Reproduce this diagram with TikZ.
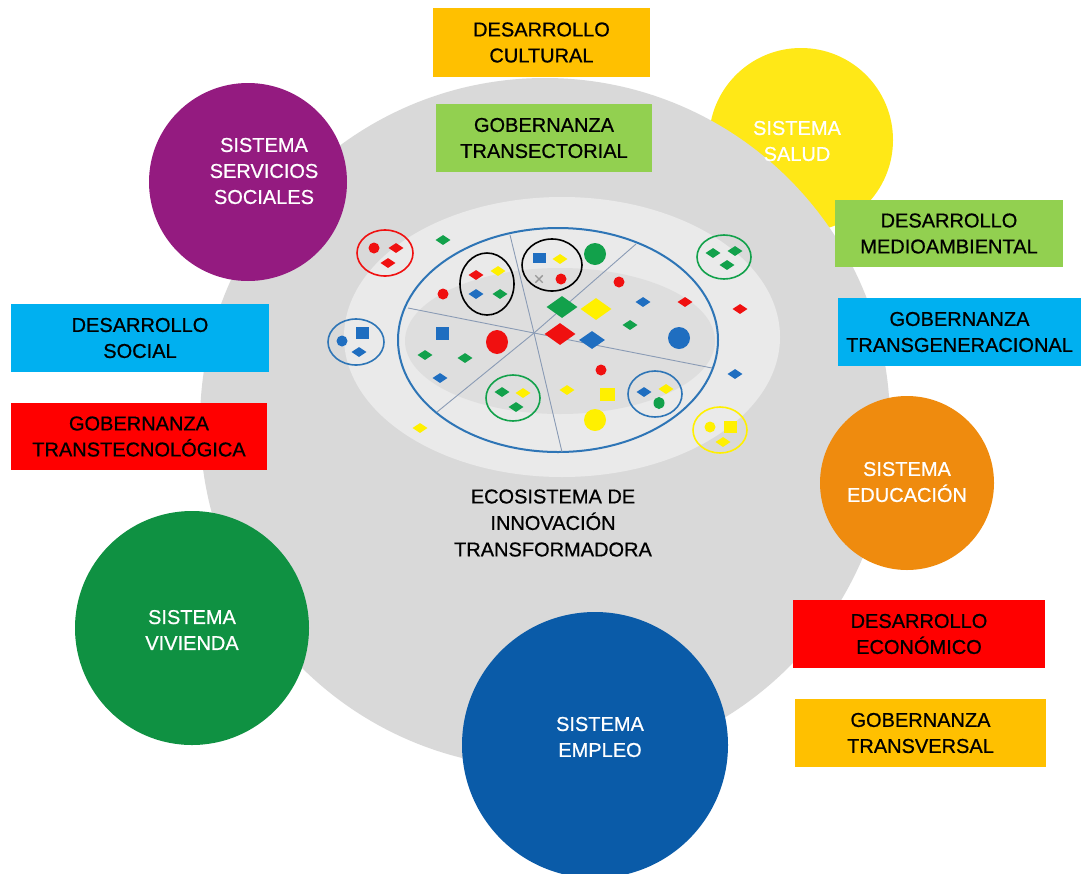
\documentclass[tikz,border=0pt]{standalone}
\usepackage{fontspec}
\setmainfont{Liberation Sans}
\newfontfamily\medfont{Liberation Sans}[FakeBold=0.7]
\usetikzlibrary{shapes.geometric,shapes.misc}
\definecolor{cBoxOr}{HTML}{FFC000}
\definecolor{cBoxGr}{HTML}{92D050}
\definecolor{cBoxBl}{HTML}{00B0F0}
\definecolor{cBoxRd}{HTML}{FF0000}
\definecolor{cPurple}{HTML}{941B80}
\definecolor{cSalud}{HTML}{FFE817}
\definecolor{cEduc}{HTML}{EF8B0E}
\definecolor{cEmpleo}{HTML}{0A5BA8}
\definecolor{cViv}{HTML}{0F9142}
\definecolor{cDisc}{HTML}{D9D9D9}
\definecolor{cLight}{HTML}{EAEAEA}
\definecolor{cDark}{HTML}{DEDEDE}
\definecolor{cRing}{HTML}{2E75B6}
\definecolor{cSpoke}{HTML}{8A9BB5}
\definecolor{sR}{HTML}{F01010}
\definecolor{sG}{HTML}{12A14B}
\definecolor{sY}{HTML}{FFF000}
\definecolor{sB}{HTML}{1F6EC0}
\newcommand\bxfont{\medfont\fontsize{20}{26}\selectfont}
\begin{document}
\begin{tikzpicture}[x=1pt,y=-1pt,
  bx/.style={rectangle, inner sep=0, align=center, font=\bxfont, text=black},
  syscirc/.style={circle, inner sep=0},
  systext/.style={align=center, font=\bxfont, text=white, inner sep=0},
  grp/.style={ellipse, draw, line width=1.6pt, inner sep=0},
  dsm/.style={diamond, inner sep=0, minimum width=15, minimum height=10},
  dmd/.style={diamond, inner sep=0, minimum width=26, minimum height=18},
  dbg/.style={diamond, inner sep=0, minimum width=31, minimum height=22},
  csm/.style={circle, inner sep=0, minimum size=11},
  cbg/.style={ellipse, inner sep=0, minimum width=22, minimum height=24},
  sq/.style={rectangle, inner sep=0, minimum width=13, minimum height=12}
]
\useasboundingbox (0,0) rectangle (1081,873);
\fill[white] (0,0) rectangle (1081,873);

% yellow circle behind the disc
\node[syscirc, fill=cSalud, minimum size=184] (saludc) at (801,140) {};

% grey disc and inner ellipses
\node[syscirc, fill=cDisc, minimum size=690] (disc) at (545,423) {};
\node[ellipse, fill=cLight, inner sep=0, minimum width=436, minimum height=280] (light) at (562,337) {};
\node[ellipse, fill=cDark, inner sep=0, minimum width=310, minimum height=146] (dark) at (560,341) {};
\node[ellipse, draw=cRing, line width=2pt, inner sep=0, minimum width=320, minimum height=224] (eco) at (558,340) {};

% spokes
\coordinate (hub) at (534,333);
\coordinate (p1) at (408,308);
\coordinate (p2) at (510,235);
\coordinate (p3) at (636,244);
\coordinate (p4) at (712,368);
\coordinate (p5) at (562,452);
\coordinate (p6) at (437,412);
\foreach \p in {p1,p2,p3,p4,p5,p6} \draw[cSpoke, line width=0.9pt] (hub) -- (\p);

% group ellipses
\node[grp, draw=sR, minimum width=56, minimum height=46] (g1) at (385,253) {};
\node[grp, draw=black, minimum width=54, minimum height=62] (g2) at (487,284) {};
\node[grp, draw=black, minimum width=60, minimum height=52] (g3) at (552,265) {};
\node[grp, draw=sG, minimum width=54, minimum height=44] (g4) at (724,257) {};
\node[grp, draw=cRing, minimum width=56, minimum height=46] (g5) at (356,342) {};
\node[grp, draw=sG, minimum width=54, minimum height=46] (g6) at (513,398) {};
\node[grp, draw=cRing, minimum width=54, minimum height=46] (g7) at (655,394) {};
\node[grp, draw=sY, minimum width=54, minimum height=46] (g8) at (720,430) {};

% red items
\node[csm, fill=sR] (r1) at (374,248) {};
\node[csm, fill=sR] (r2) at (443,294) {};
\node[csm, fill=sR] (r3) at (561,279) {};
\node[csm, fill=sR] (r4) at (619,282) {};
\node[csm, fill=sR] (r5) at (601,370) {};
\node[dsm, fill=sR] (r6) at (396,248) {};
\node[dsm, fill=sR] (r7) at (388,263) {};
\node[dsm, fill=sR] (r8) at (476,275) {};
\node[dsm, fill=sR] (r9) at (685,302) {};
\node[dsm, fill=sR] (r10) at (740,309) {};
\node[dbg, fill=sR] (r11) at (560,334) {};
\node[cbg, fill=sR] (r12) at (497,342) {};

% green items
\node[dsm, fill=sG] (e1) at (443,240) {};
\node[dsm, fill=sG] (e2) at (500,294) {};
\node[dsm, fill=sG] (e3) at (425,355) {};
\node[dsm, fill=sG] (e4) at (465,358) {};
\node[dsm, fill=sG] (e5) at (502,392) {};
\node[dsm, fill=sG] (e6) at (516,407) {};
\node[dsm, fill=sG] (e7) at (713,253) {};
\node[dsm, fill=sG] (e8) at (735,251) {};
\node[dsm, fill=sG] (e9) at (727,265) {};
\node[dsm, fill=sG] (e10) at (630,325) {};
\node[dbg, fill=sG] (e11) at (562,307) {};
\node[syscirc, fill=sG, minimum size=22] (e12) at (595,254) {};
\node[ellipse, inner sep=0, minimum width=11, minimum height=12, fill=sG] (e13) at (659,403) {};

% yellow items
\node[dsm, fill=sY] (y1) at (498,271) {};
\node[dsm, fill=sY] (y2) at (523,393) {};
\node[dsm, fill=sY] (y3) at (560,259) {};
\node[dsm, fill=sY] (y4) at (567,390) {};
\node[dsm, fill=sY] (y5) at (666,389) {};
\node[dsm, fill=sY] (y6) at (420,428) {};
\node[dsm, fill=sY] (y7) at (723,442) {};
\node[dbg, fill=sY] (y8) at (596,309) {};
\node[sq, fill=sY, minimum width=15, minimum height=13] (y9) at (607,394) {};
\node[sq, fill=sY] (y10) at (730,427) {};
\node[syscirc, fill=sY, minimum size=22] (y11) at (595,420) {};
\node[csm, fill=sY] (y12) at (710,427) {};

% blue items
\node[dsm, fill=sB] (b1) at (476,294) {};
\node[dsm, fill=sB] (b2) at (359,352) {};
\node[dsm, fill=sB] (b3) at (440,378) {};
\node[dsm, fill=sB] (b4) at (643,302) {};
\node[dsm, fill=sB] (b5) at (735,374) {};
\node[dsm, fill=sB] (b6) at (644,392) {};
\node[dmd, fill=sB] (b7) at (592,340) {};
\node[sq, fill=sB] (b8) at (362,333) {};
\node[sq, fill=sB, minimum height=13] (b9) at (442,333) {};
\node[sq, fill=sB, minimum height=10] (b10) at (539,258) {};
\node[csm, fill=sB] (b11) at (342,341) {};
\node[syscirc, fill=sB, minimum size=22] (b12) at (679,338) {};

% grey cross
\node[cross out, draw=gray!80, line width=1.4pt, inner sep=0, minimum size=6] (x1) at (539,279) {};

% ecosystem label
\node[align=center, font=\medfont\fontsize{20}{26.5}\selectfont, text=black, inner sep=0] (ecolbl) at (553,523) {ECOSISTEMA DE\\INNOVACIÓN\\TRANSFORMADORA};

% system circles
\node[syscirc, fill=cPurple, minimum size=198] (servc) at (248,182) {};
\node[syscirc, fill=cEduc, minimum size=174] (educc) at (907,483) {};
\node[syscirc, fill=cEmpleo, minimum size=266] (emplc) at (595,745) {};
\node[syscirc, fill=cViv, minimum size=234] (vivc) at (192,628) {};

\node[systext] (serv) at (264,171) {SISTEMA\\SERVICIOS\\SOCIALES};
\node[systext] (educ) at (907,482) {SISTEMA\\EDUCACIÓN};
\node[systext] (empl) at (600,737) {SISTEMA\\EMPLEO};
\node[systext] (viv) at (192,630) {SISTEMA\\VIVIENDA};

% boxes
\node[bx, fill=cBoxOr, minimum width=217, minimum height=69] (cultural) at (541.5,42.5) {DESARROLLO\\CULTURAL};
\node[bx, fill=cBoxGr, minimum width=216, minimum height=68] (transect) at (544,138) {GOBERNANZA\\TRANSECTORIAL};
\node[bx, fill=cBoxGr, minimum width=228, minimum height=67] (medio) at (949,233.5) {DESARROLLO\\MEDIOAMBIENTAL};
\node[bx, fill=cBoxBl, minimum width=243, minimum height=68] (transgen) at (959.5,332) {GOBERNANZA\\TRANSGENERACIONAL};
\node[bx, fill=cBoxBl, minimum width=258, minimum height=68] (social) at (140,338) {DESARROLLO\\SOCIAL};
\node[bx, fill=cBoxRd, minimum width=256, minimum height=67] (transtec) at (139,436.5) {GOBERNANZA\\TRANSTECNOLÓGICA};
\node[bx, fill=cBoxRd, minimum width=252, minimum height=68] (econ) at (919,634) {DESARROLLO\\ECONÓMICO};
\node[bx, fill=cBoxOr, minimum width=251, minimum height=68] (transv) at (920.5,733) {GOBERNANZA\\TRANSVERSAL};

% salud text on top
\node[systext] (salud) at (797,141) {SISTEMA\\SALUD};
\end{tikzpicture}
\end{document}
